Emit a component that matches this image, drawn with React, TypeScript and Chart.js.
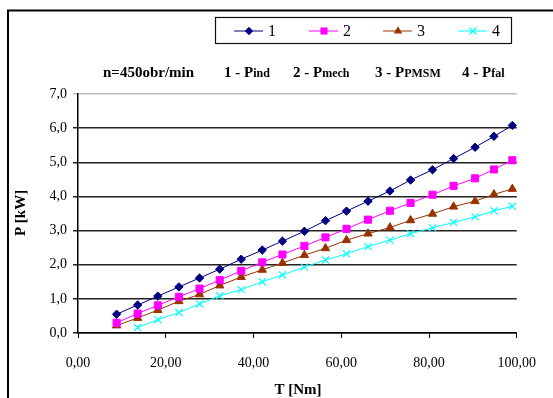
import React, { useEffect, useRef } from "react";
import { Chart, registerables } from "chart.js";

Chart.register(...registerables);

const torque = [8.8, 13.6, 18.2, 23.0, 27.7, 32.3, 37.2, 42.0, 46.6, 51.6, 56.4, 61.2, 66.1, 71.1, 75.8, 80.8, 85.6, 90.5, 94.8, 99.0];
const pInd = [0.55, 0.82, 1.08, 1.35, 1.61, 1.87, 2.16, 2.43, 2.69, 2.98, 3.29, 3.57, 3.86, 4.16, 4.48, 4.78, 5.11, 5.44, 5.76, 6.08];
const pMech = [0.30, 0.57, 0.81, 1.06, 1.30, 1.55, 1.82, 2.07, 2.30, 2.55, 2.80, 3.05, 3.32, 3.58, 3.81, 4.05, 4.31, 4.53, 4.79, 5.06];
const pPmsm = [0.22, 0.44, 0.67, 0.93, 1.13, 1.39, 1.64, 1.85, 2.05, 2.28, 2.48, 2.72, 2.91, 3.09, 3.30, 3.49, 3.70, 3.86, 4.06, 4.22];
const pFal = [null, 0.16, 0.39, 0.60, 0.85, 1.09, 1.27, 1.50, 1.70, 1.93, 2.14, 2.32, 2.53, 2.72, 2.91, 3.08, 3.24, 3.40, 3.58, 3.71];

const seriesLabels = ["1", "2", "3", "4"];
const subtitleMain = "n=450obr/min";
const subtitleItems = [
  ["1 - P", "ind"],
  ["2 - P", "mech"],
  ["3 - P", "PMSM"],
  ["4 - P", "fal"],
];
const xTitle = "T [Nm]";
const yTitle = "P [kW]";

const FONT = "'Liberation Serif', 'Times New Roman', serif";

const styles = [
  { color: "#000080", pointStyle: "rectRot", radius: 4.2 },
  { color: "#FF00FF", pointStyle: "rect", radius: 5 },
  { color: "#993300", pointStyle: "triangle", radius: 4.8 },
  { color: "#00FFFF", pointStyle: "crossRot", radius: 5 },
];

function toPoints(values: (number | null)[]) {
  const out: { x: number; y: number }[] = [];
  values.forEach((v, i) => {
    if (v !== null) out.push({ x: torque[i], y: v });
  });
  return out;
}

function drawMarker(ctx: CanvasRenderingContext2D, style: string, r: number, x: number, y: number) {
  ctx.beginPath();
  if (style === "rectRot") {
    ctx.moveTo(x, y - r);
    ctx.lineTo(x + r, y);
    ctx.lineTo(x, y + r);
    ctx.lineTo(x - r, y);
    ctx.closePath();
    ctx.fill();
  } else if (style === "rect") {
    const s = Math.SQRT1_2 * r;
    ctx.rect(x - s, y - s, 2 * s, 2 * s);
    ctx.fill();
  } else if (style === "triangle") {
    ctx.moveTo(x, y - r);
    ctx.lineTo(x + r * 0.866, y + r * 0.5);
    ctx.lineTo(x - r * 0.866, y + r * 0.5);
    ctx.closePath();
    ctx.fill();
  } else {
    const d = Math.SQRT1_2 * r;
    ctx.moveTo(x - d, y - d);
    ctx.lineTo(x + d, y + d);
    ctx.moveTo(x - d, y + d);
    ctx.lineTo(x + d, y - d);
    ctx.stroke();
  }
}

const decorPlugin = {
  id: "decor",
  beforeDraw(chart: any) {
    const ctx = chart.ctx;
    ctx.save();
    ctx.fillStyle = "#fff";
    ctx.fillRect(0, 0, chart.width, chart.height);
    ctx.restore();
  },
  afterDraw(chart: any) {
    const ctx = chart.ctx;
    ctx.save();
    // outer frame
    ctx.strokeStyle = "#000";
    ctx.lineWidth = 2;
    ctx.strokeRect(8, 10.5, 700, 700);

    // legend box
    ctx.lineWidth = 1.2;
    ctx.strokeStyle = "#111";
    ctx.strokeRect(215.5, 17.5, 296, 26);
    const itemX = [234, 309, 383, 458];
    const ly = 31;
    itemX.forEach((x0, i) => {
      const s = styles[i];
      ctx.strokeStyle = s.color;
      ctx.lineWidth = 1;
      ctx.beginPath();
      ctx.moveTo(x0, ly);
      ctx.lineTo(x0 + 29, ly);
      ctx.stroke();
      ctx.fillStyle = s.color;
      ctx.strokeStyle = s.color;
      ctx.lineWidth = s.pointStyle === "crossRot" ? 1.2 : 1;
      drawMarker(ctx, s.pointStyle, s.radius, x0 + 15, ly);
      ctx.fillStyle = "#000";
      ctx.font = `16px ${FONT}`;
      ctx.textBaseline = "middle";
      ctx.textAlign = "left";
      ctx.fillText(seriesLabels[i], x0 + 34, ly + 1);
    });

    // subtitle
    ctx.fillStyle = "#000";
    ctx.textBaseline = "alphabetic";
    ctx.textAlign = "left";
    ctx.font = `bold 15px ${FONT}`;
    ctx.fillText(subtitleMain, 103, 77);
    const sx = [224, 293, 375, 462];
    subtitleItems.forEach((it, i) => {
      ctx.font = `bold 15px ${FONT}`;
      ctx.fillText(it[0], sx[i], 77);
      const w = ctx.measureText(it[0]).width;
      ctx.font = `bold 12px ${FONT}`;
      ctx.fillText(it[1], sx[i] + w, 77);
    });

    // axis titles
    ctx.font = `bold 15px ${FONT}`;
    ctx.textAlign = "center";
    ctx.textBaseline = "middle";
    ctx.fillText(xTitle, 298, 390);
    ctx.save();
    ctx.translate(21, 213);
    ctx.rotate(-Math.PI / 2);
    ctx.fillText(yTitle, 0, 0);
    ctx.restore();
    ctx.restore();
  },
};

export default function App() {
  const ref = useRef<HTMLCanvasElement | null>(null);

  useEffect(() => {
    if (!ref.current) return;
    const seriesValues = [pInd, pMech, pPmsm, pFal];
    const chart = new Chart(ref.current, {
      type: "scatter",
      data: {
        datasets: seriesValues.map((vals, i) => ({
          label: seriesLabels[i],
          data: toPoints(vals),
          showLine: true,
          borderColor: styles[i].color,
          backgroundColor: styles[i].color,
          borderWidth: 1,
          pointStyle: styles[i].pointStyle as any,
          pointRadius: styles[i].radius,
          pointBorderWidth: i === 3 ? 1.2 : 1,
        })),
      },
      options: {
        animation: false,
        responsive: false,
        devicePixelRatio: 1,
        layout: { padding: { top: 94, right: 35, left: 0, bottom: 0 } },
        plugins: {
          legend: { display: false },
          tooltip: { enabled: false },
          title: { display: false },
        },
        scales: {
          x: {
            type: "linear",
            min: 0,
            max: 100,
            afterFit: (s: any) => {
              s.height = 65;
            },
            ticks: {
              stepSize: 20,
              color: "#000",
              font: { family: FONT, size: 14 },
              padding: 17,
              maxRotation: 0,
              callback: (v: any) => Number(v).toFixed(2).replace(".", ","),
            },
            grid: {
              drawOnChartArea: false,
              drawTicks: true,
              tickLength: 5,
              color: "#000",
            },
            border: { color: "#000", width: 1.5 },
          },
          y: {
            type: "linear",
            min: 0,
            max: 7,
            afterFit: (s: any) => {
              s.width = 78;
            },
            ticks: {
              stepSize: 1,
              color: "#000",
              font: { family: FONT, size: 14 },
              padding: 6,
              callback: (v: any) => Number(v).toFixed(1).replace(".", ","),
            },
            grid: {
              drawOnChartArea: true,
              drawTicks: true,
              tickLength: 5,
              color: (c: any) => (c.tick && c.tick.value === 7 ? "#c0c0c0" : "#222"),
              lineWidth: 1.5,
            },
            border: { color: "#000", width: 1.5 },
          },
        },
      },
      plugins: [decorPlugin],
    });
    return () => chart.destroy();
  }, []);

  return (
    <div style={{ position: "absolute", left: 0, top: 0, width: 553, height: 398, background: "#fff" }}>
      <canvas ref={ref} width={553} height={398} style={{ display: "block" }} />
    </div>
  );
}
